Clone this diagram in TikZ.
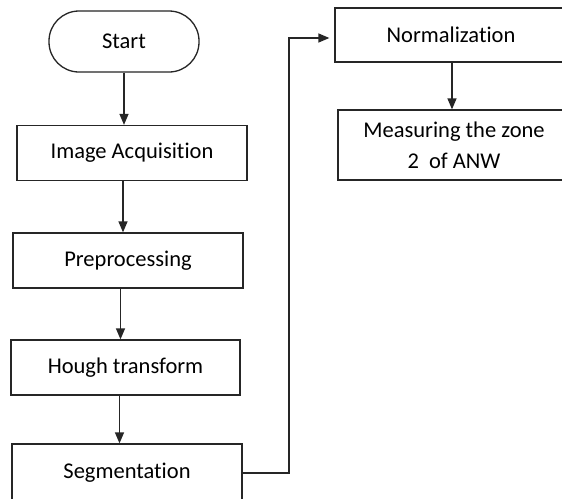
\documentclass[tikz,border=0pt]{standalone}
\usepackage{fontspec}
\setmainfont{Carlito}[Ligatures=NoCommon]
\usetikzlibrary{arrows.meta}
\begin{document}
\begin{tikzpicture}[x=1pt,y=-1pt,
  box/.style={draw=black!85,line width=1.3pt,minimum width=230pt,minimum height=55pt,inner sep=0pt,font=\fontsize{22.5}{27}\selectfont},
  conn/.style={draw=black!85,line width=1.3pt,-{Triangle[length=11pt,width=9pt]}}]
\useasboundingbox (0,0) rectangle (562,498);
\clip (0,0) rectangle (562,498);
\fill[white] (0,0) rectangle (562,498);
\node[box,minimum width=150pt,minimum height=61pt,rounded corners=30pt] (start) at (124,41.5) {Start};
\node[box] (img) at (132,153) {Image Acquisition};
\node[box] (pre) at (128,260.5) {Preprocessing};
\node[box,minimum width=229pt] (hough) at (125.5,367.5) {Hough transform};
\node[box,minimum height=58pt] (seg) at (127,473) {\raisebox{4pt}{Segmentation}};
\node[box,minimum width=232pt,minimum height=54pt] (norm) at (451,35) {Normalization};
\node[box,minimum width=232pt,minimum height=70pt,align=center,font=\fontsize{22.5}{31}\selectfont] (meas) at (454,145) {Measuring the zone\\2\ \ of ANW};
\coordinate (c1) at (289,473);
\coordinate (c2) at (289,38);
\draw[conn] (start.south) -- (start.south |- img.north);
\draw[conn] ([xshift=-9pt]img.south) -- ([xshift=-9pt]img.south |- pre.north);
\draw[conn] ([xshift=-7.5pt]pre.south) -- ([xshift=-7.5pt]pre.south |- hough.north);
\draw[conn] ([xshift=-6pt]hough.south) -- ([xshift=-6pt]hough.south |- seg.north);
\draw[conn,shorten >=5pt] (seg.east |- c1) -- (c1) -- (c2) -- (norm.west |- c2);
\draw[conn] ([xshift=1pt]norm.south) -- ([xshift=1pt]norm.south |- meas.north);
\end{tikzpicture}
\end{document}
